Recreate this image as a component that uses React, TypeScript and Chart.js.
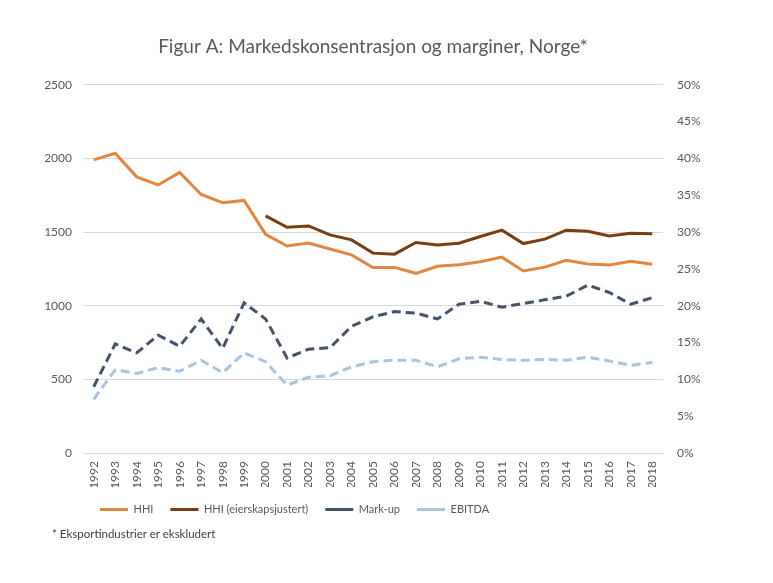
import React, { useEffect, useRef } from "react";
import { Chart, registerables } from "chart.js";

Chart.register(...registerables);

const years = [
  "1992","1993","1994","1995","1996","1997","1998","1999","2000","2001","2002","2003","2004",
  "2005","2006","2007","2008","2009","2010","2011","2012","2013","2014","2015","2016","2017","2018",
];

const hhi = [1990,2035,1875,1820,1905,1755,1700,1715,1485,1405,1425,1385,1345,1260,1260,1220,1268,1278,1298,1330,1236,1262,1308,1284,1276,1302,1281];

const hhiOwner = [null,null,null,null,null,null,null,null,1610,1533,1542,1481,1447,1357,1350,1429,1413,1424,1470,1513,1422,1452,1513,1506,1474,1492,1488];

const markup = [0.090,0.148,0.136,0.160,0.145,0.182,0.142,0.204,0.182,0.129,0.141,0.143,0.172,0.185,0.192,0.190,0.182,0.202,0.206,0.198,0.203,0.208,0.213,0.228,0.218,0.202,0.211];

const ebitda = [0.073,0.113,0.108,0.116,0.111,0.126,0.109,0.136,0.124,0.092,0.103,0.105,0.117,0.124,0.126,0.126,0.117,0.128,0.130,0.127,0.126,0.127,0.126,0.130,0.125,0.119,0.123];

const leftTicks = [0, 500, 1000, 1500, 2000, 2500];
const rightTicks = [0, 0.05, 0.1, 0.15, 0.2, 0.25, 0.3, 0.35, 0.4, 0.45, 0.5];

const titleText = "Figur A: Markedskonsentrasjon og marginer, Norge*";
const footnote = "* Eksportindustrier er ekskludert";

const FONT = "Lato, 'Open Sans', sans-serif";
const TEXT = "#595959";

export default function App() {
  const ref = useRef<HTMLCanvasElement | null>(null);

  useEffect(() => {
    if (!ref.current) return;
    const chart = new Chart(ref.current, {
      type: "line",
      data: {
        labels: years,
        datasets: [
          { label: "HHI", data: hhi, borderColor: "#E3873F", backgroundColor: "#E3873F", borderWidth: 3, yAxisID: "y", pointRadius: 0, tension: 0 },
          { label: "HHI (eierskapsjustert)", data: hhiOwner, borderColor: "#7A3E14", backgroundColor: "#7A3E14", borderWidth: 3, yAxisID: "y", pointRadius: 0, tension: 0 },
          { label: "Mark-up", data: markup, borderColor: "#44546A", backgroundColor: "#44546A", borderWidth: 3, borderDash: [9, 5], yAxisID: "y1", pointRadius: 0, tension: 0 },
          { label: "EBITDA", data: ebitda, borderColor: "#A9C4E0", backgroundColor: "#A9C4E0", borderWidth: 3, borderDash: [9, 5], yAxisID: "y1", pointRadius: 0, tension: 0 },
        ],
      },
      options: {
        animation: false,
        responsive: false,
        maintainAspectRatio: false,
        layout: { padding: { top: 0, bottom: 58, left: 0, right: 0 } },
        plugins: {
          title: {
            display: true,
            text: titleText,
            fullSize: false,
            color: TEXT,
            font: { family: FONT, size: 19, weight: "normal" },
            padding: { top: 35, bottom: 27 },
          },
          legend: {
            display: true,
            position: "bottom",
            align: "start",
            fullSize: false,
            labels: {
              usePointStyle: true,
              pointStyle: "line",
              pointStyleWidth: 28,
              boxHeight: 11,
              color: TEXT,
              padding: 17,
              font: { family: FONT, size: 11 },
            },
          },
          tooltip: { enabled: false },
        },
        scales: {
          x: {
            offset: true,
            grid: { display: false, drawTicks: false },
            border: { display: false },
            ticks: {
              color: TEXT,
              font: { family: FONT, size: 12 },
              maxRotation: 90,
              minRotation: 90,
              padding: 8,
              autoSkip: false,
            },
            afterFit: (s: any) => { s.height = 34; },
          },
          y: {
            position: "left",
            min: 0,
            max: 2500,
            afterBuildTicks: (s: any) => { s.ticks = leftTicks.map((v) => ({ value: v })); },
            grid: { color: "#D9D9D9", drawTicks: false, lineWidth: 1 },
            border: { display: false },
            ticks: {
              color: TEXT,
              font: { family: FONT, size: 12 },
              padding: 11,
              callback: (v: any) => String(v),
            },
            afterFit: (s: any) => { s.width = 83; },
          },
          y1: {
            position: "right",
            min: 0,
            max: 0.5,
            afterBuildTicks: (s: any) => { s.ticks = rightTicks.map((v) => ({ value: v })); },
            grid: { display: false, drawTicks: false },
            border: { display: false },
            ticks: {
              color: TEXT,
              font: { family: FONT, size: 12 },
              padding: 14,
              callback: (v: any) => Math.round(Number(v) * 100) + "%",
            },
            afterFit: (s: any) => { s.width = 110; },
          },
        },
      },
    });
    return () => chart.destroy();
  }, []);

  return (
    <div style={{ position: "fixed", left: 0, top: 0, width: 773, height: 583, background: "#fff" }}>
      <canvas ref={ref} width={773} height={583} style={{ display: "block" }} />
      <div
        style={{
          position: "absolute",
          left: 52,
          top: 527,
          fontFamily: FONT,
          fontSize: 11.5,
          color: "#404040",
          whiteSpace: "nowrap",
        }}
      >
        {footnote}
      </div>
    </div>
  );
}
